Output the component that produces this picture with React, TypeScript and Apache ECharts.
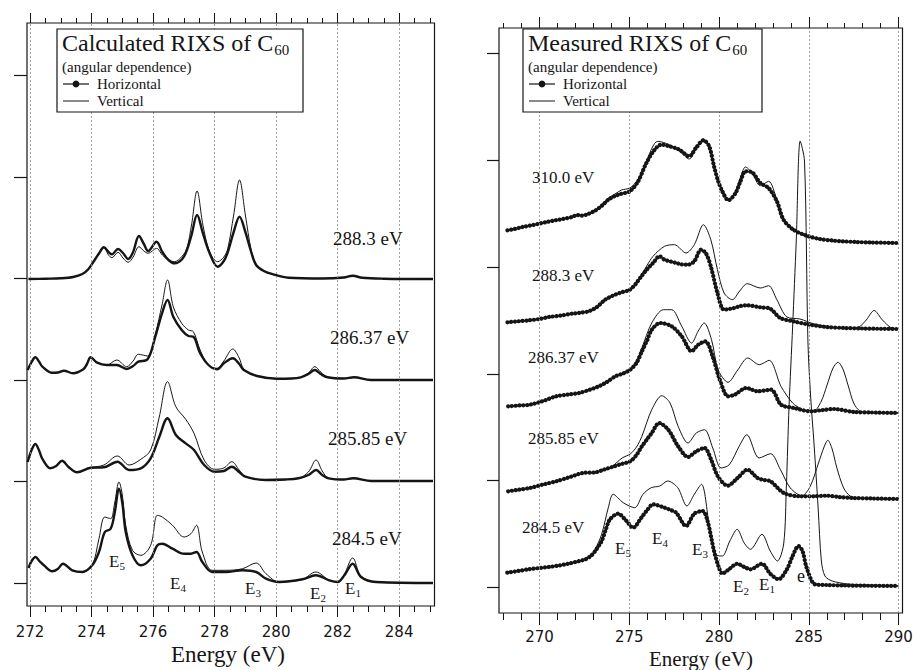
import React, { useEffect, useRef } from "react";
import * as echarts from "echarts";

type Pt = [number, number];

// ---------------- Left panel: Calculated RIXS ----------------
const calcLabels = ["288.3 eV", "286.37 eV", "285.85 eV", "284.5 eV"];
const calcOffsets = [304, 203, 102, 0];

const calc288H: Pt[] = [[271.95,0],[272.5,0.3],[273.0,0.7],[273.4,2],[273.7,5],[273.9,10],[274.1,19],[274.25,26],[274.4,31.7],[274.55,27],[274.66,24.7],[274.86,30],[275.02,26],[275.19,20],[275.35,27],[275.54,43],[275.7,35],[275.84,28],[276.11,37.3],[276.3,27],[276.5,19],[276.7,15.7],[276.95,20],[277.1,29],[277.25,44],[277.43,64],[277.62,45.7],[277.84,25.7],[278.1,12.3],[278.3,18],[278.43,27],[278.62,47],[278.81,62.3],[279.0,47],[279.19,27],[279.35,14],[279.6,8],[279.9,4.7],[280.4,1.3],[281.5,0.5],[282.2,1.5],[282.49,3.3],[282.8,1.2],[283.5,0.3],[285.1,0]];
const calc288V: Pt[] = [[271.95,0],[272.5,0.3],[273.0,0.7],[273.4,2],[273.7,5],[273.9,10],[274.1,19],[274.25,26],[274.4,31.7],[274.55,24],[274.66,21.3],[274.86,26.7],[275.02,21],[275.19,16.7],[275.35,22],[275.54,32.3],[275.7,28],[275.84,25.7],[276.11,30.7],[276.3,24],[276.5,19],[276.7,17.3],[276.95,23],[277.1,31],[277.25,54],[277.43,88],[277.62,54],[277.84,27],[278.1,17.3],[278.3,22],[278.43,30.7],[278.62,64],[278.81,99],[279.0,64],[279.19,29],[279.35,14.7],[279.6,8],[279.9,4.7],[280.4,1.3],[281.5,0.5],[282.2,1.5],[282.49,3.3],[282.8,1.2],[283.5,0.3],[285.1,0]];

const calc286H: Pt[] = [[271.92,10],[272.05,18],[272.17,22.7],[272.3,18],[272.4,13.3],[272.7,7.3],[272.9,7.5],[273.1,9.3],[273.4,6.7],[273.73,10.7],[273.85,16],[273.97,22.7],[274.18,17.3],[274.49,15],[274.82,15],[275.14,11],[275.35,14],[275.52,18.3],[275.82,20.7],[276.07,43],[276.29,66.7],[276.47,80],[276.66,63],[276.93,50],[277.15,44],[277.31,43.3],[277.53,26.7],[277.8,15],[278.08,10.7],[278.3,16.7],[278.59,21.7],[278.8,16],[278.95,10],[279.38,4],[280.03,1.3],[280.5,1.5],[280.8,2.7],[281.05,6],[281.26,10],[281.45,6],[281.67,2.7],[282.2,1.5],[282.53,2.7],[283.08,0],[285.1,0]];
const calc286V: Pt[] = [[271.92,10],[272.05,18],[272.17,22.7],[272.3,18],[272.4,13.3],[272.7,7.3],[272.9,7.5],[273.1,9.3],[273.4,6.7],[273.73,10.7],[273.85,16],[273.97,22.7],[274.18,17.3],[274.49,15],[274.82,20],[275.14,13.3],[275.35,19],[275.52,25.7],[275.82,24],[276.07,46],[276.29,75],[276.47,100],[276.66,73],[276.93,56.7],[277.15,50],[277.31,48.3],[277.53,30],[277.8,15],[278.08,11.7],[278.3,19],[278.59,31],[278.8,22],[278.95,11],[279.38,4],[280.03,1.3],[280.5,1.5],[280.8,2.7],[281.05,7],[281.26,13.3],[281.45,8],[281.67,2.7],[282.2,1.5],[282.53,2.7],[283.08,0],[285.1,0]];

const calc285H: Pt[] = [[271.92,19],[272.05,31],[272.17,37],[272.3,30],[272.39,22.7],[272.66,12.7],[272.85,15],[273.04,20.3],[273.25,14],[273.53,8.7],[273.97,13.3],[274.4,13.7],[274.84,19.3],[275.22,11],[275.6,12.7],[275.92,22.7],[276.2,44],[276.47,62.7],[276.74,46],[277.06,37.7],[277.33,31],[277.66,16],[278.0,9.3],[278.3,10],[278.56,14.3],[278.8,9],[279.0,4.3],[279.65,1],[280.3,1.5],[280.73,2.7],[281.05,6],[281.3,11],[281.5,6],[281.71,2.7],[282.2,1.5],[282.5,2.7],[283.1,0],[285.1,0]];
const calc285V: Pt[] = [[271.92,19],[272.05,31],[272.17,37],[272.3,30],[272.39,22.7],[272.66,12.7],[272.85,15],[273.04,20.3],[273.25,14],[273.53,8.7],[273.97,13.3],[274.4,16],[274.84,25],[275.22,16],[275.6,21.7],[275.92,31],[276.2,64],[276.47,99.3],[276.74,74.3],[277.06,61.7],[277.33,47.7],[277.66,21],[278.0,11.7],[278.3,13],[278.56,19.3],[278.8,11],[279.0,4.3],[279.65,1],[280.3,1.5],[280.73,2.7],[281.05,9],[281.3,21],[281.5,10],[281.71,2.7],[282.2,1.5],[282.5,2.7],[283.1,0],[285.1,0]];

const calc284H: Pt[] = [[271.95,15],[272.05,22],[272.18,26],[272.3,22],[272.45,17.7],[272.72,11.7],[272.9,14],[273.07,19.3],[273.37,12.7],[273.7,11],[274.02,17.7],[274.24,31],[274.43,51],[274.62,54.3],[274.75,70],[274.89,94.3],[275.0,80],[275.11,51],[275.33,27.7],[275.6,17.7],[275.92,24.3],[276.14,37.7],[276.3,39.3],[276.63,34.3],[277.01,29.3],[277.23,29.3],[277.41,31],[277.6,21],[277.92,11],[278.36,11],[278.91,12.7],[279.35,11],[279.67,4.3],[280.1,1],[280.86,3.7],[281.29,7.7],[281.73,2.7],[282.0,1],[282.22,7.7],[282.49,19.3],[282.76,6],[283.25,1],[285.1,0]];
const calc284V: Pt[] = [[271.95,15],[272.05,22],[272.18,26],[272.3,22],[272.45,17.7],[272.72,11.7],[272.9,14],[273.07,19.3],[273.37,12.7],[273.7,11],[274.02,17.7],[274.24,44.3],[274.43,66],[274.62,64.3],[274.75,80],[274.89,101],[275.0,88],[275.11,57.7],[275.33,32.7],[275.6,27.7],[275.92,37.7],[276.14,67.7],[276.3,66],[276.63,57.7],[277.01,46],[277.23,49.3],[277.41,57.7],[277.6,31],[277.92,12.7],[278.36,12.7],[278.91,14.3],[279.35,20],[279.67,9.3],[280.1,1],[280.86,3.7],[281.29,11],[281.73,2.7],[282.0,1],[282.22,9],[282.49,25],[282.76,7],[283.25,1],[285.1,0]];

const calcH = [calc288H, calc286H, calc285H, calc284H];
const calcV = [calc288V, calc286V, calc285V, calc284V];

const calcMajorTicks = [272, 274, 276, 278, 280, 282, 284];
const calcMinorTicks = [272, 272.5, 273, 273.5, 274, 274.5, 275, 275.5, 276, 276.5, 277, 277.5, 278, 278.5, 279, 279.5, 280, 280.5, 281, 281.5, 282, 282.5, 283, 283.5, 284, 284.5, 285];
const calcYTicks = [0, 101.5, 203, 304.5, 406, 507.5];
const calcPeakLabels = ["5", "4", "3", "2", "1"];

// ---------------- Right panel: Measured RIXS ----------------
const measLabels = ["310.0 eV", "288.3 eV", "286.37 eV", "285.85 eV", "284.5 eV"];
const measOffsets = [344, 258, 174, 88, 1];

const meas310H: Pt[] = [[268.21,12.7],[268.6,14],[269.04,16],[269.5,17.5],[269.96,19.3],[270.4,21],[270.88,22.7],[271.3,24],[271.8,26],[272.1,28],[272.36,27.3],[272.7,29],[273.09,32.3],[273.45,37],[273.83,43.3],[274.2,47],[274.57,49.3],[275.03,51.7],[275.49,61.7],[275.95,80],[276.41,93.3],[276.78,98.3],[277.24,96.7],[277.79,93.3],[278.34,86.7],[278.71,95],[279.13,102.7],[279.45,96.7],[279.72,76.7],[279.95,62],[280.18,51.7],[280.52,42.7],[280.92,50],[281.2,62],[281.47,71.7],[281.84,70.7],[282.3,60],[282.76,55],[283.22,41.7],[283.59,23.3],[284.14,13.3],[284.88,7.3],[285.62,4],[286.3,2.5],[286.91,1.7],[287.6,1],[288.5,0.5],[289.94,0]];
const meas310V: Pt[] = [[268.21,12.7],[268.6,14],[269.04,16],[269.5,17.5],[269.96,19.3],[270.4,21],[270.88,22.7],[271.3,24],[271.8,26],[272.1,28],[272.36,27.3],[272.7,29],[273.09,32.3],[273.45,38],[273.83,45],[274.2,49],[274.57,53],[275.03,55],[275.49,63.3],[275.95,82],[276.59,101.7],[277.24,98.3],[277.79,92],[278.34,84],[278.71,94],[279.13,104],[279.45,97],[279.72,76.7],[279.95,62],[280.18,51.7],[280.52,42.7],[280.92,52],[281.2,66],[281.47,76],[281.84,70],[282.3,57.3],[282.76,61.7],[283.22,43.3],[283.59,23.3],[284.14,13.3],[284.88,7.3],[285.62,4],[286.3,2.5],[286.91,1.7],[287.6,1],[288.5,0.5],[289.94,0]];

const meas288H: Pt[] = [[268.21,6.7],[268.8,7.7],[269.41,8.7],[270.0,10],[270.52,12],[271.2,13.5],[271.8,15.3],[272.3,16.3],[272.73,17.7],[273.2,22],[273.65,29.3],[274.1,33.5],[274.57,36.7],[275.03,39.3],[275.35,45],[275.67,52.7],[276.0,60],[276.32,66],[276.68,72.7],[276.96,69.3],[277.3,67.5],[277.61,66],[277.95,64.5],[278.25,64.3],[278.62,67.7],[278.99,79.3],[279.26,76],[279.54,62.7],[279.91,36],[280.28,19.3],[280.83,21],[281.2,23],[281.57,23.7],[282.3,21.7],[282.85,20.3],[283.41,11],[284.14,7.7],[285.06,4.3],[285.99,2],[287,1],[288,0.5],[289.94,0]];
const meas288V: Pt[] = [[268.21,6.7],[268.8,7.7],[269.41,8.7],[270.0,10],[270.52,12],[271.2,13.5],[271.8,15.3],[272.3,16.3],[272.73,17.7],[273.2,22],[273.65,29.3],[274.1,33.5],[274.57,36.7],[275.03,39.3],[275.35,45],[275.67,54],[276.0,64],[276.32,72.7],[276.96,82.7],[277.51,84.3],[278.16,76],[278.62,84.3],[279.13,104.3],[279.54,89.3],[279.91,59.3],[280.28,36],[280.74,29.3],[281.15,38],[281.57,45.3],[282.3,41],[282.76,43.3],[283.22,29.3],[283.78,12],[284.51,10],[285.25,5.3],[286.2,2],[286.91,0.7],[287.4,1],[287.8,2],[288.2,9],[288.64,18.5],[289.1,9],[289.6,1],[289.94,0]];

const meas286H: Pt[] = [[268.25,6.7],[268.85,7.5],[269.45,8.3],[270.2,12],[270.92,16.7],[271.6,18.5],[272.2,20],[272.75,23],[273.3,26.7],[273.75,31],[274.22,36.7],[274.65,39.5],[275.05,43.3],[275.4,50],[275.7,61.7],[276.0,73],[276.25,83.3],[276.72,90],[277.36,86.7],[277.92,76.7],[278.47,61.7],[278.84,68.3],[279.24,71.7],[279.67,55],[280.04,33.3],[280.5,16.7],[280.87,18.3],[281.51,25],[282.16,21.7],[282.9,23.3],[283.45,8.3],[284.18,5],[285.1,1.7],[285.8,3],[286.39,4],[287.5,1],[288.5,0.5],[289.99,0]];
const meas286V: Pt[] = [[268.25,6.7],[268.85,7.5],[269.45,8.3],[270.2,12],[270.92,16.7],[271.6,18.5],[272.2,20],[272.75,23],[273.3,26.7],[273.75,31],[274.22,36.7],[274.65,40],[275.05,44],[275.4,52],[275.7,65],[276.25,90],[276.9,103.3],[277.36,103.3],[277.92,86.7],[278.47,70],[278.84,82],[279.17,90],[279.58,73.3],[279.95,43.3],[280.5,30.7],[281.05,43.3],[281.6,55],[282.24,48.3],[282.79,52.7],[283.45,26.7],[284.1,10],[284.6,4],[285.0,1.7],[285.3,2],[285.7,12],[286.0,27],[286.35,45],[286.63,50.7],[286.9,44],[287.2,27],[287.5,10],[287.85,2],[288.5,0.5],[289.99,0]];

const meas285H: Pt[] = [[268.25,7.7],[268.85,9.3],[269.45,11],[270.2,14.5],[270.92,17.7],[271.7,22],[272.4,26],[273.12,26.7],[273.6,29.5],[274.04,32],[274.55,35],[275.05,37.7],[275.4,44],[275.7,52.7],[276.0,60],[276.25,66],[276.66,76],[277.17,69.3],[277.72,52.7],[278.27,42],[278.73,47.7],[279.19,51],[279.56,39.3],[279.93,22.7],[280.48,13.3],[281.03,21],[281.58,29.3],[282.14,21],[282.5,19],[282.87,17.7],[283.61,6],[284.53,2.7],[285.3,2.7],[286.0,3.3],[286.7,2],[287.47,1],[288.5,0.5],[289.99,0]];
const meas285V: Pt[] = [[268.25,7.7],[268.85,9.3],[269.45,11],[270.2,14.5],[270.92,17.7],[271.7,22],[272.4,26],[273.12,26.7],[273.6,29.5],[274.04,32.7],[274.6,41],[275.05,45],[275.4,52],[275.7,62.7],[276.25,89.3],[276.81,103.3],[277.27,96],[277.72,72.7],[278.27,56],[278.73,66],[279.19,69.3],[279.65,51],[280.11,31],[280.57,34.3],[281.12,52.7],[281.55,64.3],[282.23,41],[282.87,45.3],[283.42,29.3],[283.97,11],[284.62,3.3],[285.08,12.7],[285.54,36],[285.85,52],[286.06,58.7],[286.3,50],[286.55,32],[286.94,11],[287.3,3],[287.7,1],[289.99,0]];

const meas284H: Pt[] = [[268.2,13.3],[268.8,15],[269.4,16.7],[270.0,18],[270.5,19],[271.1,20.5],[271.6,22.3],[272.1,24.5],[272.55,26.7],[272.85,30],[273.1,35],[273.46,45],[273.7,57],[273.92,66.7],[274.38,72.3],[274.84,65],[275.21,58.3],[275.67,68.3],[276.0,76],[276.32,81.7],[276.96,78.3],[277.3,76],[277.61,73.3],[278.16,60],[278.62,72.3],[279.08,75],[279.36,65],[279.72,35],[280.0,18],[280.18,12.3],[280.55,16.7],[281.01,22.3],[281.4,19],[281.75,16.7],[282.39,22.3],[282.85,12.3],[283.31,6.7],[283.78,16.7],[284.1,30],[284.42,40],[284.65,35],[284.88,18.3],[285.34,1.7],[286,1],[287,0.5],[289.99,0]];
const meas284V: Pt[] = [[268.2,13.3],[268.8,15],[269.4,16.7],[270.0,18],[270.5,19],[271.1,20.5],[271.6,22.3],[272.1,24.5],[272.55,26.7],[272.85,30],[273.1,37],[273.46,51.7],[273.83,78.3],[274.1,91.7],[274.66,83.3],[275.3,78.3],[275.76,91.7],[276.22,98.3],[276.7,100],[277.14,105],[277.7,98.3],[278.21,80],[278.62,91.7],[279.02,101.7],[279.45,61.7],[279.82,31.7],[280.18,30],[280.6,45],[281.01,56.7],[281.4,43],[281.75,36.7],[282.39,51.7],[282.85,35],[283.25,25],[283.6,42],[283.75,100],[283.9,180],[284.1,260],[284.3,345],[284.52,445],[284.76,425],[284.95,245],[285.1,190],[285.3,140],[285.52,78],[285.7,25],[285.9,10],[286.3,5],[287.2,2],[288.5,1],[289.99,0]];

const measH = [meas310H, meas288H, meas286H, meas285H, meas284H];
const measV = [meas310V, meas288V, meas286V, meas285V, meas284V];

const measMajorTicks = [270, 275, 280, 285, 290];
const measMinorTicks = [268, 269, 270, 271, 272, 273, 274, 275, 276, 277, 278, 279, 280, 281, 282, 283, 284, 285, 286, 287, 288, 289, 290];
const measYTicks = [0, 107, 213, 320, 427, 534];
const measPeakLabels = ["5", "4", "3", "2", "1"];

// ---------------- layout constants ----------------
const INK = "#151515";
const SERIF = "'Liberation Serif', 'DejaVu Serif', serif";
const SANS = "'DejaVu Sans', 'Liberation Sans', sans-serif";

const LEFT_GRID = { left: 27, top: 23, width: 407.5, height: 583 };
const RIGHT_GRID = { left: 499, top: 28, width: 403.5, height: 585 };
const LEFT_X = [271.9, 285.15];
const RIGHT_X = [267.74, 290.22];

const calcLabelPos: Pt[] = [[333, 238], [330, 337], [328, 438], [332, 538]];
const measLabelPos: Pt[] = [[532, 177], [532, 275], [528, 357], [528, 438], [522, 527]];
const calcPeakPos: Pt[] = [[109, 561], [170, 583], [245, 588], [310, 593], [345, 588]];
const measPeakPos: Pt[] = [[615, 548], [652, 538], [692, 549], [733, 586], [759, 584]];

function shift(pts: Pt[], off: number): Pt[] {
  return pts.map(([x, y]) => [x, y + off] as Pt);
}

function xAxis(grid: number, range: number[], pos: "top" | "bottom", ticks: number[], len: number, labels: boolean, margin = 18) {
  return {
    type: "value",
    gridIndex: grid,
    min: range[0],
    max: range[1],
    position: pos,
    axisLine: { show: false, onZero: false },
    splitLine: { show: false },
    axisTick: { show: true, customValues: ticks, length: len, inside: false, lineStyle: { color: INK, width: 1 } },
    axisLabel: labels
      ? { show: true, customValues: ticks, margin, fontFamily: SANS, fontSize: 15, color: INK, formatter: (v: number) => String(v) }
      : { show: false },
  };
}

function yAxis(grid: number, min: number, max: number, ticks: number[], len: number) {
  return {
    type: "value",
    gridIndex: grid,
    min,
    max,
    axisLine: { show: false, onZero: false },
    splitLine: { show: false },
    axisLabel: { show: false },
    axisTick: { show: true, customValues: ticks, length: len, inside: false, lineStyle: { color: INK, width: 1.2 } },
  };
}

function gridMarkLine(vals: number[]) {
  return {
    silent: true,
    symbol: ["none", "none"],
    label: { show: false },
    animation: false,
    lineStyle: { type: [2, 2], color: "#8a8a8a", width: 0.8 },
    data: vals.map((v) => ({ xAxis: v })),
  };
}

function peakText(x: number, y: number, sub: string) {
  return {
    type: "text",
    x,
    y,
    z: 50,
    style: {
      text: sub ? `{a|E}{b|${sub}}` : "{c|e}",
      rich: {
        a: { fontFamily: SERIF, fontSize: 17, fill: INK, color: INK },
        b: { fontFamily: SERIF, fontSize: 11, fill: INK, color: INK, padding: [10, 0, 0, 0] },
        c: { fontFamily: SERIF, fontSize: 18, fill: INK, color: INK },
      },
      textAlign: "left",
      textVerticalAlign: "middle",
    },
  };
}

function plainText(x: number, y: number, text: string, size: number, align = "left") {
  return {
    type: "text",
    x,
    y,
    z: 50,
    style: { text, fontFamily: SERIF, fontSize: size, lineHeight: size, fill: INK, textAlign: align, textVerticalAlign: "middle" },
  };
}

function legendBox(x: number, y: number, w: number, h: number, title: string) {
  const lx = x + 6;
  return [
    { type: "rect", z: 40, shape: { x, y, width: w, height: h }, style: { fill: "#fff", stroke: INK, lineWidth: 1.2 } },
    {
      type: "text",
      x: x + 5,
      y: y + 14,
      z: 50,
      style: {
        text: `{t|${title}}{s|60}`,
        rich: {
          t: { fontFamily: SERIF, fontSize: 24, fill: INK, color: INK },
          s: { fontFamily: SERIF, fontSize: 15, fill: INK, color: INK, padding: [14, 0, 0, 1] },
        },
        textAlign: "left",
        textVerticalAlign: "middle",
      },
    },
    plainText(x + 5, y + 38, "(angular dependence)", 15),
    { type: "line", z: 50, shape: { x1: lx, y1: y + 55, x2: lx + 26, y2: y + 55 }, style: { stroke: INK, lineWidth: 1.2 } },
    { type: "circle", z: 51, shape: { cx: lx + 13, cy: y + 55, r: 3.4 }, style: { fill: INK } },
    plainText(lx + 34, y + 55, "Horizontal", 15),
    { type: "line", z: 50, shape: { x1: lx, y1: y + 72, x2: lx + 26, y2: y + 72 }, style: { stroke: INK, lineWidth: 1 } },
    plainText(lx + 34, y + 72, "Vertical", 15),
  ];
}

function buildOption() {
  const series: any[] = [];
  calcH.forEach((pts, i) => {
    series.push({
      type: "line",
      xAxisIndex: 0,
      yAxisIndex: 0,
      data: shift(pts, calcOffsets[i]),
      symbol: "none",
      smooth: 0.35,
      lineStyle: { color: INK, width: 2.4 },
      z: 3,
      ...(i === 0 ? { markLine: gridMarkLine(calcMajorTicks) } : {}),
    });
  });
  calcV.forEach((pts, i) => {
    series.push({
      type: "line",
      xAxisIndex: 0,
      yAxisIndex: 0,
      data: shift(pts, calcOffsets[i]),
      symbol: "none",
      smooth: 0.35,
      lineStyle: { color: INK, width: 1 },
      z: 4,
    });
  });
  measH.forEach((pts, i) => {
    const d = shift(pts, measOffsets[i]);
    series.push({
      type: "line",
      xAxisIndex: 4,
      yAxisIndex: 1,
      data: d,
      symbol: "none",
      smooth: 0.3,
      lineStyle: { color: INK, width: 1.3 },
      z: 3,
      ...(i === 0 ? { markLine: gridMarkLine(measMajorTicks) } : {}),
    });
    series.push({
      type: "line",
      xAxisIndex: 4,
      yAxisIndex: 1,
      data: d,
      symbol: "none",
      smooth: 0.3,
      lineStyle: { color: INK, width: 4.2, type: [0.01, 3.8], cap: "round" },
      z: 3,
    });
  });
  measV.forEach((pts, i) => {
    series.push({
      type: "line",
      xAxisIndex: 4,
      yAxisIndex: 1,
      data: shift(pts, measOffsets[i]),
      symbol: "none",
      smooth: 0.3,
      lineStyle: { color: INK, width: 1 },
      z: 4,
    });
  });

  const graphic: any[] = [
    ...legendBox(57, 29, 246, 83, "Calculated RIXS of C"),
    ...legendBox(523, 29, 239, 83, "Measured RIXS of C"),
    ...calcLabels.map((t, i) => plainText(calcLabelPos[i][0], calcLabelPos[i][1], t, 19)),
    ...measLabels.map((t, i) => plainText(measLabelPos[i][0], measLabelPos[i][1], t, 17)),
    ...calcPeakLabels.map((s, i) => peakText(calcPeakPos[i][0], calcPeakPos[i][1], s)),
    ...measPeakLabels.map((s, i) => peakText(measPeakPos[i][0], measPeakPos[i][1], s)),
    peakText(797, 576, ""),
    plainText(228, 654, "Energy (eV)", 23, "center"),
    plainText(701, 659, "Energy (eV)", 21, "center"),
  ];

  return {
    animation: false,
    backgroundColor: "#ffffff",
    grid: [
      { ...LEFT_GRID, show: true, borderColor: INK, borderWidth: 1.2, backgroundColor: "transparent" },
      { ...RIGHT_GRID, show: true, borderColor: INK, borderWidth: 1.2, backgroundColor: "transparent" },
    ],
    xAxis: [
      xAxis(0, LEFT_X, "bottom", calcMajorTicks, 11, true),
      xAxis(0, LEFT_X, "bottom", calcMinorTicks, 6, false),
      xAxis(0, LEFT_X, "top", calcMajorTicks, 10, false),
      xAxis(0, LEFT_X, "top", calcMinorTicks, 5, false),
      xAxis(1, RIGHT_X, "bottom", measMajorTicks, 12, true, 16),
      xAxis(1, RIGHT_X, "bottom", measMinorTicks, 7, false),
      xAxis(1, RIGHT_X, "top", measMajorTicks, 11, false),
      xAxis(1, RIGHT_X, "top", measMinorTicks, 5, false),
    ],
    yAxis: [yAxis(0, -23, 560, calcYTicks, 13), yAxis(1, -26, 559, measYTicks, 12)],
    series,
    graphic,
  };
}

export default function App() {
  const ref = useRef<HTMLDivElement>(null);
  useEffect(() => {
    if (!ref.current) return;
    const chart = echarts.init(ref.current, null, { renderer: "svg" });
    chart.setOption(buildOption() as any);
    return () => chart.dispose();
  }, []);
  return (
    <div
      ref={ref}
      style={{ position: "fixed", left: 0, top: 0, width: 916, height: 670, background: "#fff" }}
    />
  );
}
